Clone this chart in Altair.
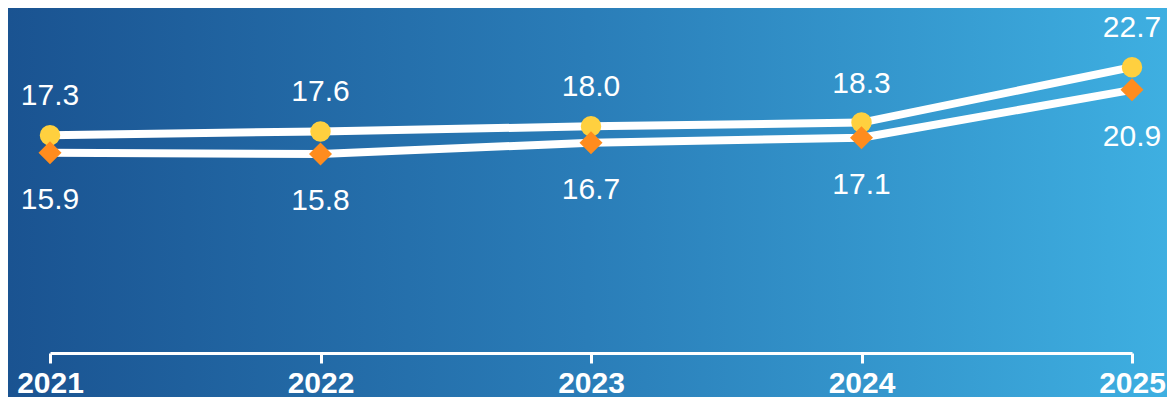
import altair as alt
import pandas as pd

years = [2021, 2022, 2023, 2024, 2025]
series_a = [17.3, 17.6, 18.0, 18.3, 22.7]   # yellow circles (upper line)
series_b = [15.9, 15.8, 16.7, 17.1, 20.9]   # orange diamonds (lower line)

df_a = pd.DataFrame({"year": years, "value": series_a})
df_b = pd.DataFrame({"year": years, "value": series_b})

FONT = "Liberation Sans"
W, H = 1082, 345
PL, PR, PB = 42, 35, 44

x = alt.X("year:Q",
          scale=alt.Scale(domain=[2021, 2025], nice=False, zero=False),
          axis=alt.Axis(values=years, format="d", title=None, grid=False,
                        labelFont=FONT, labelFontSize=30, labelFontWeight="bold",
                        labelColor="white", labelPadding=5,
                        domainColor="white", domainWidth=3,
                        tickColor="white", tickWidth=3, tickSize=10,
                        labelOverlap=False, labelFlush=False, zindex=2))
y = alt.Y("value:Q", scale=alt.Scale(domain=[0, 27.4], nice=False, zero=True), axis=None)

bg = alt.Chart(pd.DataFrame({"k": [0]})).mark_rect(
    fill=alt.Gradient(gradient="linear",
                      stops=[alt.GradientStop(color="#1A5391", offset=0),
                             alt.GradientStop(color="#2A7DB8", offset=0.5),
                             alt.GradientStop(color="#3EAFE1", offset=1)],
                      x1=0, x2=1, y1=0, y2=0),
    clip=False
).encode(x=alt.value(-PL), x2=alt.value(W + PR), y=alt.value(-5), y2=alt.value(H + PB + 5))

line_a = alt.Chart(df_a).mark_line(color="white", strokeWidth=8).encode(x=x, y=y)
line_b = alt.Chart(df_b).mark_line(color="white", strokeWidth=8).encode(x=x, y=y)
pts_a = alt.Chart(df_a).mark_point(shape="circle", filled=True, size=420,
                                   color="#FFD03F", opacity=1).encode(x=x, y=y)
pts_b = alt.Chart(df_b).mark_point(shape="diamond", filled=True, size=530,
                                   color="#FF8C1E", opacity=1).encode(x=x, y=y)
lab_a = alt.Chart(df_a).mark_text(font=FONT, fontSize=30, color="white",
                                  baseline="alphabetic", align="center", dy=-30).encode(
    x=x, y=y, text=alt.Text("value:Q", format=".1f"))
lab_b = alt.Chart(df_b).mark_text(font=FONT, fontSize=30, color="white",
                                  baseline="alphabetic", align="center", dy=56).encode(
    x=x, y=y, text=alt.Text("value:Q", format=".1f"))

chart = alt.layer(bg, line_a, line_b, pts_a, pts_b, lab_a, lab_b).properties(
    width=W, height=H,
    autosize=alt.AutoSizeParams(type="none"),
    padding={"left": PL, "top": 0, "right": PR, "bottom": PB},
).configure_view(stroke=None).configure(background="#1A5391")

chart.save("out.html", embed_options={"renderer": "svg", "actions": False})
